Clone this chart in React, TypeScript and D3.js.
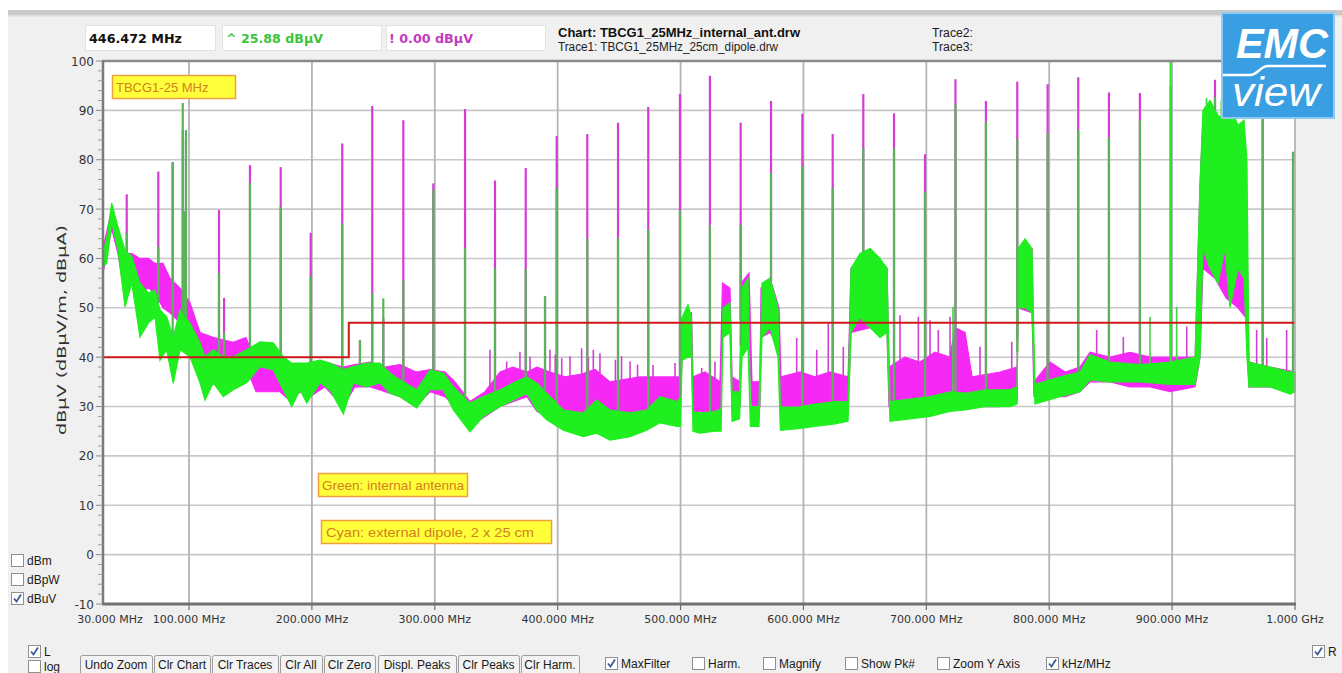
import React from 'react';
import * as d3 from 'd3';

// ---------- DATA ----------
const yTickValues = [100, 90, 80, 70, 60, 50, 40, 30, 20, 10, 0, -10];
const xGridMHz = [100, 200, 300, 400, 500, 600, 700, 800, 900];
const xLabelMHz = [30, 100, 200, 300, 400, 500, 600, 700, 800, 900, 1000];
const xLabelText = ['30.000 MHz', '100.000 MHz', '200.000 MHz', '300.000 MHz', '400.000 MHz', '500.000 MHz', '600.000 MHz', '700.000 MHz', '800.000 MHz', '900.000 MHz', '1.000 GHz'];

// limit line (MHz, dBµV)
const limitFreq = [30, 230, 230, 1000];
const limitLevel = [40, 40, 47, 47];

// internal antenna trace (green): noise envelope
const internalFreq = [30, 33, 37.1, 42.2, 47.9, 53.4, 60.1, 66.9, 72.3, 76.4, 81.8, 87.2, 92.7, 100.8, 108.9, 113, 119.8, 127.9, 136, 146.9, 157.8, 168.6, 176.7, 183.6, 190.3, 195.8, 206.6, 214.7, 225.6, 233.7, 244.6, 255.4, 263.5, 271.7, 285.3, 296.1, 306.9, 315.1, 328.6, 339.5, 353.1, 363.9, 374.8, 382.9, 391.1, 404.6, 420.9, 431.7, 442.6, 458.9, 472.4, 483.3, 497.1, 500, 501.2, 506, 508.9, 510.1, 515.6, 527.8, 533, 534.5, 540.2, 541.9, 548, 550, 554.9, 556.8, 563.8, 566.3, 572.8, 579.3, 581.2, 595.6, 609.4, 625.7, 636.3, 638.7, 646, 654.2, 662.3, 668, 670.4, 686.7, 703, 719.2, 731.5, 747.7, 768.1, 773.8, 774.6, 780.3, 786, 788.4, 808.8, 825, 833.2, 849.5, 873.9, 898.3, 918.7, 922.7, 925.1, 930.8, 937.3, 943, 947.1, 953.6, 958.5, 960.9, 962.5, 979.6, 996, 1000];
const internalLo = [58.3, 59, 67.2, 61.7, 50.2, 55, 44.1, 46.9, 48.2, 39.4, 41.5, 34.7, 41.5, 40.1, 34.8, 31.3, 34.8, 32, 33.4, 34.8, 38.1, 37.4, 33.4, 30, 33.4, 30.7, 34.8, 33.4, 28.5, 34.8, 34, 34.8, 32.7, 32, 29.7, 33.4, 33.4, 29.3, 24.9, 28, 30, 31.3, 32.7, 29.3, 27.3, 25.2, 23.9, 24.6, 23.2, 23.9, 25.2, 26.7, 26, 26, 39.4, 40, 40, 25, 24.6, 25, 25, 44, 45, 27, 27.5, 40, 42, 26, 26, 44, 46, 40, 25.2, 25.5, 26, 26.5, 27, 45, 48, 46, 44, 45, 27, 27.5, 28, 29, 29.3, 30, 30, 30.5, 50, 50, 49, 30.5, 32, 33, 35.4, 35, 35, 34.5, 34.5, 40, 62, 58, 55, 62, 50, 58, 56, 40, 34, 34, 32.5, 33];
const internalHi = [61.7, 64, 71.2, 66.4, 61.7, 60.4, 55, 53, 53.6, 49.6, 48.2, 44.1, 49.6, 46.9, 42.9, 40.1, 41.5, 40.1, 40.1, 41.5, 43.1, 42.9, 40.1, 38.8, 38.8, 38.8, 39.4, 38.8, 37.5, 38.1, 38.8, 38.8, 36.8, 35.4, 33.4, 37.4, 36.8, 34, 30.7, 32, 33.4, 34.8, 36, 34.8, 32.7, 29.3, 28.7, 31.3, 29.3, 28.7, 29.3, 32, 31, 32, 48, 50.6, 48, 29, 28.7, 29, 29.5, 50, 51, 33, 33, 54, 56, 30, 30, 55, 56, 50, 29.9, 29.9, 30.5, 31, 31, 58, 61, 62, 60, 58, 31, 31.5, 32, 33, 32.7, 33.4, 33.4, 34, 62, 64, 62, 34.5, 36, 37, 40.5, 39, 38.5, 39, 40, 75, 90, 92, 89, 88, 91, 87, 88, 80, 39, 38, 37, 37];

// external dipole trace (magenta): noise envelope
const dipoleFreq = [30, 37.1, 42.2, 47.9, 53.4, 60.1, 66.9, 72.3, 78.8, 84.5, 92.7, 100.8, 108.9, 119.5, 127.6, 136, 146.3, 154.6, 165.9, 174, 183, 190.3, 198.5, 210.7, 225.3, 235.1, 247.3, 259.5, 271.7, 284.7, 296.1, 308.3, 316.4, 328.6, 340.9, 353.1, 363.6, 375, 383.2, 393.7, 405.8, 418.2, 430.4, 442.6, 454.8, 467, 479.2, 491.4, 499.5, 501.2, 508.9, 510.1, 519.9, 532.1, 534.1, 540.2, 541.9, 548.4, 549.2, 555.7, 558.1, 564.6, 565.5, 572.8, 580.1, 581.7, 597.2, 609.4, 621.6, 636.3, 638.7, 654.2, 668, 669.6, 682.6, 694.8, 707, 719.2, 723.3, 731.5, 737.2, 760, 773.8, 774.6, 786, 787.6, 800.6, 812.9, 825, 833.2, 849.5, 865.8, 882.1, 898.3, 918.7, 922.7, 925.1, 934.9, 943.9, 953.6, 960.1, 962.5, 979.6, 1000];
const dipoleLo = [57, 66, 61, 52, 55, 53, 54, 53, 50, 49, 47, 45, 40, 39, 38, 37, 38, 33, 33, 33, 31, 33, 32, 34, 30, 34, 34, 33, 32, 30, 33, 32, 30, 26, 28, 30, 31, 32, 29, 28, 27, 27, 28, 26, 27, 28, 28, 28, 28, 40, 40, 29, 29, 28, 48, 47, 29, 30, 45, 45, 30, 30, 44, 45, 42, 29, 29, 29, 29, 29, 45, 46, 45, 30, 31, 30, 31, 30, 32, 32, 30, 30, 31, 50, 49, 32, 32, 32, 33, 35, 35, 34, 34, 33, 34, 40, 58, 56, 52, 50, 48, 34, 34, 33];
const dipoleHi = [62, 70, 66, 61, 61, 60, 60, 59, 59, 56, 54, 51, 45, 44, 43.5, 43, 44, 39, 38.5, 38, 38, 38, 38, 39, 38, 38.5, 39, 38, 38.5, 37, 37.5, 37, 35, 31, 33, 37, 38, 37, 38, 37, 36, 36.5, 37.5, 35, 35.5, 36, 36, 36, 36, 48, 49, 36, 37, 35, 55, 54, 36, 35, 55, 57, 35, 35, 54, 56, 50, 36, 37, 36, 37, 36, 58, 62, 58, 38, 40, 39, 41, 40, 46, 45, 36, 37, 38, 62, 62, 35, 39, 37, 38, 41, 40, 41, 40, 40, 40, 75, 88, 90, 86, 86, 80, 39, 38, 37];

// harmonic spikes: frequency, dipole peak, internal-antenna peak (dBµV)
const spikeFreq = [49.3, 75, 86.7, 94.9, 97.5, 96.8, 124.4, 128.5, 149.6, 174.6, 199, 224.7, 239.1, 249.1, 258.1, 274.4, 298.8, 324.6, 349, 374, 389.7, 399.2, 424.1, 449.1, 473.7, 499.5, 523.9, 548.9, 573.6, 599.1, 623.8, 648.7, 673.7, 698.9, 723.7, 748.5, 774, 798.7, 823.6, 848.6, 873.8, 898.8, 934.9, 973.7, 998.4];
const spikeDipole = [73, 77.6, 79.5, 86, 84, 69.5, 69.8, 52, 78.9, 78.5, 65.2, 83.3, 43.5, 90.9, 48, 88, 75.2, 90.3, 75.8, 78.3, 52.4, 84.8, 85.2, 87.5, 90.7, 93.3, 97, 87.5, 91.9, 89.3, 85.2, 93.3, 89.4, 81.1, 96.3, 91.9, 95.8, 95.3, 96.7, 93.6, 93.5, 95, 96.2, 88.4, 81.6];
const spikeInternal = [65.2, 62.4, 79.5, 91.5, 86, 69.5, 57, 45, 75.3, 70.5, 56.3, 67.1, 43.5, 52.9, 51.9, 55.6, 73.9, 62.1, 58, 57.9, 52.4, 74.2, 64.1, 64.1, 65.8, 69.8, 66.8, 66.8, 77.3, 78.7, 74.2, 82.3, 82.3, 73.5, 91.3, 87.7, 84.2, 85.4, 86, 84.5, 88, 100, 92.7, 88.4, 81.6];

// smaller noise peaks
const dipoleMinorFreq = [344.9, 358.5, 369.3, 377.5, 393.7, 398, 403.3, 410, 419.5, 425, 429, 434.4, 447, 452, 458.9, 465, 477.6, 495.5, 517.2, 528, 594.5, 610.8, 620.2, 632.4, 678.6, 693.5, 703, 709.7, 719.3, 743.7, 769.5, 838.6, 860.3, 911.9, 968.8, 977, 993.2];
const dipoleMinorTop = [41.5, 39.1, 41.1, 40.1, 41.5, 40.5, 39.8, 40.2, 41.8, 40, 41.5, 40.8, 39.5, 40.2, 39.1, 38.5, 38.4, 38.8, 37.8, 39.1, 43.9, 41.5, 46.9, 42.1, 48.5, 48.2, 47.5, 45.5, 48.2, 42.1, 43.1, 45.5, 44.1, 46.2, 45.5, 43.9, 45.5];
const internalMinorFreq = [721.7, 882, 903.7, 928, 940];
const internalMinorTop = [50.2, 48.2, 50.2, 92.5, 92];

// ---------- LAYOUT ----------
const W = 1342, H = 673;
const PL = 103, PR = 1295, PT = 61, PB = 604;
const fx = d3.scaleLinear().domain([30, 1000]).range([PL, PR]);
const fy = d3.scaleLinear().domain([-10, 100]).range([PB, PT]);

function interp(xs: number[], ys: number[], f: number) {
  const i = d3.bisectLeft(xs, f);
  if (i <= 0) return ys[0];
  if (i >= xs.length) return ys[ys.length - 1];
  const t = (f - xs[i - 1]) / (xs[i] - xs[i - 1] || 1);
  return ys[i - 1] + t * (ys[i] - ys[i - 1]);
}

const UI = 'Tahoma, "DejaVu Sans", sans-serif';
const NARROW = '"Liberation Sans Narrow", "Liberation Sans", Arial, sans-serif';

function CheckBox({ x, y, checked, label, size = 12 }: { x: number; y: number; checked: boolean; label?: string; size?: number }) {
  return (
    <g>
      <rect x={x + 0.5} y={y + 0.5} width={size} height={size} fill="#ffffff" stroke="#8e8f8f" strokeWidth={1} />
      {checked && (
        <path d={`M${x + 3},${y + 6.5} L${x + 5.5},${y + 9.5} L${x + 10},${y + 2.5}`} fill="none" stroke="#3d5a98" strokeWidth={1.8} />
      )}
      {label && (
        <text x={x + size + 4} y={y + size - 1.5} fontFamily={NARROW} fontSize={12} fill="#1a1a1a">{label}</text>
      )}
    </g>
  );
}

function Button({ x0, x1, label }: { x0: number; x1: number; label: string }) {
  return (
    <g>
      <rect x={x0 + 0.5} y={655.5} width={x1 - x0} height={22} rx={2} fill="#f3f3f3" stroke="#9c9c9c" />
      <text x={(x0 + x1) / 2} y={669} textAnchor="middle" fontFamily={NARROW} fontSize={12} fill="#1a1a1a">{label}</text>
    </g>
  );
}

export default function App() {
  const idxG = internalFreq.map((_, i) => i);
  const idxD = dipoleFreq.map((_, i) => i);
  const areaG = d3.area<number>().x(i => fx(internalFreq[i])).y0(i => fy(internalLo[i])).y1(i => fy(internalHi[i]));
  const areaD = d3.area<number>().x(i => fx(dipoleFreq[i])).y0(i => fy(dipoleLo[i])).y1(i => fy(dipoleHi[i]));
  const limitLine = d3.line<number>().x(i => fx(limitFreq[i])).y(i => fy(limitLevel[i]))(limitFreq.map((_, i) => i));

  const minorY: number[] = d3.range(-10, 100, 2).filter(v => v % 10 !== 0);

  return (
    <svg width={W} height={H} style={{ position: 'absolute', left: 0, top: 0, display: 'block' }} xmlns="http://www.w3.org/2000/svg">
      <rect x={0} y={0} width={W} height={H} fill="#ffffff" />
      {/* window panel */}
      <rect x={8} y={10} width={W - 8} height={H - 10} fill="#f0f0f0" />
      <rect x={8} y={10} width={W - 8} height={6} fill="#c9c9c9" />
      <rect x={8} y={15} width={W - 8} height={1.5} fill="#dedede" />

      {/* header fields */}
      <rect x={85.5} y={25.5} width={130} height={25} fill="#ffffff" stroke="#e2e2e2" />
      <rect x={222.5} y={25.5} width={159} height={25} fill="#ffffff" stroke="#e2e2e2" />
      <rect x={386.5} y={25.5} width={159} height={25} fill="#ffffff" stroke="#e2e2e2" />
      <text x={89} y={43} fontFamily={UI} fontWeight="bold" fontSize={13} fill="#111" textLength={93} lengthAdjust="spacingAndGlyphs">446.472 MHz</text>
      <text x={226} y={43} fontFamily={UI} fontWeight="bold" fontSize={13} fill="#3ac43a" textLength={97} lengthAdjust="spacingAndGlyphs">^ 25.88 dBµV</text>
      <text x={389} y={43} fontFamily={UI} fontWeight="bold" fontSize={13} fill="#c43ac4" textLength={84} lengthAdjust="spacingAndGlyphs">! 0.00 dBµV</text>
      <text x={558} y={37} fontFamily={NARROW} fontWeight="bold" fontSize={12.5} fill="#111" textLength={242} lengthAdjust="spacingAndGlyphs">Chart: TBCG1_25MHz_internal_ant.drw</text>
      <text x={558} y={51} fontFamily={NARROW} fontSize={12} fill="#222" textLength={220} lengthAdjust="spacingAndGlyphs">Trace1: TBCG1_25MHz_25cm_dipole.drw</text>
      <text x={932} y={37} fontFamily={NARROW} fontSize={12} fill="#222" textLength={41} lengthAdjust="spacingAndGlyphs">Trace2:</text>
      <text x={932} y={51} fontFamily={NARROW} fontSize={12} fill="#222" textLength={41} lengthAdjust="spacingAndGlyphs">Trace3:</text>

      {/* plot background */}
      <rect x={PL} y={PT} width={PR - PL} height={PB - PT} fill="#ffffff" />

      {/* grid */}
      {yTickValues.filter(v => v > -10 && v < 100).map(v => (
        <line key={'hg' + v} x1={PL} x2={PR} y1={fy(v)} y2={fy(v)} stroke="#c8c8cc" strokeWidth={1.6} />
      ))}
      {xGridMHz.map(f => (
        <line key={'vg' + f} x1={fx(f)} x2={fx(f)} y1={PT} y2={PB} stroke="#b4b4b8" strokeWidth={1.8} />
      ))}

      {/* dipole trace (magenta) */}
      <path d={areaD(idxD) || ''} fill="#f528f5" stroke="#f528f5" strokeWidth={1.2} />
      {dipoleMinorFreq.map((f, i) => (
        <line key={'dm' + i} x1={fx(f)} x2={fx(f)} y1={fy(interp(dipoleFreq, dipoleHi, f))} y2={fy(dipoleMinorTop[i])} stroke="#d23fd2" strokeWidth={1.6} />
      ))}
      {spikeFreq.map((f, i) => (
        <line key={'ds' + i} x1={fx(f)} x2={fx(f)} y1={fy(interp(dipoleFreq, dipoleHi, f))} y2={fy(spikeDipole[i])} stroke="#d43cd4" strokeWidth={2.2} />
      ))}

      {/* internal antenna trace (green) */}
      <path d={areaG(idxG) || ''} fill="#1fee1f" stroke="#1fee1f" strokeWidth={1.2} />
      {internalMinorFreq.map((f, i) => (
        <line key={'gm' + i} x1={fx(f)} x2={fx(f)} y1={fy(interp(internalFreq, internalHi, f))} y2={fy(internalMinorTop[i])} stroke="#3fd43f" strokeWidth={1.6} />
      ))}
      {spikeFreq.map((f, i) => (
        <line key={'gs' + i} x1={fx(f)} x2={fx(f)} y1={fy(interp(internalFreq, internalHi, f))} y2={fy(spikeInternal[i])} stroke={spikeInternal[i] >= 99 ? '#22ee22' : '#58b458'} strokeWidth={2.2} />
      ))}

      {/* limit */}
      <path d={limitLine || ''} fill="none" stroke="#d01818" strokeWidth={2} />

      {/* frame */}
      <line x1={PL} x2={PR} y1={PT} y2={PT} stroke="#8a8a8a" strokeWidth={2.5} />
      <line x1={PR} x2={PR} y1={PT} y2={PB} stroke="#a8a8a8" strokeWidth={1.5} />
      <line x1={PL} x2={PL} y1={PT - 1} y2={PB} stroke="#7a7a7a" strokeWidth={2.5} />
      <line x1={PL - 1} x2={PR + 1} y1={PB} y2={PB} stroke="#707070" strokeWidth={3} />

      {/* y axis ticks */}
      {yTickValues.map(v => (
        <g key={'yt' + v}>
          <line x1={96} x2={PL} y1={fy(v)} y2={fy(v)} stroke="#8a8a8a" strokeWidth={1} />
          <text x={94} y={fy(v) + 4.5} textAnchor="end" fontFamily='"DejaVu Sans", sans-serif' fontSize={12} fill="#333">{v}</text>
        </g>
      ))}
      {minorY.map(v => (
        <line key={'ym' + v} x1={98} x2={PL} y1={fy(v)} y2={fy(v)} stroke="#9a9a9a" strokeWidth={1} />
      ))}
      <text transform="translate(66,330) rotate(-90)" textAnchor="middle" fontFamily='"DejaVu Sans", sans-serif' fontSize={12} fill="#333" textLength={210} lengthAdjust="spacingAndGlyphs">dBµV  (dBµV/m, dBµA)</text>

      {/* x axis ticks & labels */}
      {xLabelMHz.map((f, i) => (
        <g key={'xt' + f}>
          {f > 30 && <line x1={fx(f)} x2={fx(f)} y1={PB} y2={PB + 6} stroke="#707070" strokeWidth={1.2} />}
          <text x={f === 30 ? fx(f) + 7 : fx(f)} y={623} textAnchor="middle" fontFamily='"DejaVu Sans", sans-serif' fontSize={11} fill="#333">{xLabelText[i]}</text>
        </g>
      ))}

      {/* annotations */}
      <rect x={112.5} y={75.5} width={123} height={23} fill="#ffff3a" stroke="#f0a040" strokeWidth={1.5} />
      <text x={116} y={92} fontFamily='"Liberation Sans", Arial, sans-serif' fontSize={13} fill="#d2801e">TBCG1-25 MHz</text>
      <rect x={318.5} y={473.5} width={149} height={23} fill="#ffff3a" stroke="#f0a040" strokeWidth={1.5} />
      <text x={322} y={490} fontFamily='"Liberation Sans", Arial, sans-serif' fontSize={13} fill="#d2801e" textLength={142} lengthAdjust="spacingAndGlyphs">Green: internal antenna</text>
      <rect x={321.5} y={520.5} width={230} height={23} fill="#ffff3a" stroke="#f0a040" strokeWidth={1.5} />
      <text x={326} y={537} fontFamily='"Liberation Sans", Arial, sans-serif' fontSize={13} fill="#d2801e" textLength={208} lengthAdjust="spacingAndGlyphs">Cyan: external dipole, 2 x 25 cm</text>

      {/* logo */}
      <rect x={1222} y={13} width={112} height={105} fill="#3a9ee2" stroke="#8fcaf0" strokeWidth={2} />
      <text x={1236} y={58} fontFamily='"Liberation Sans", Arial, sans-serif' fontWeight="bold" fontStyle="italic" fontSize={42} fill="#ffffff" textLength={92} lengthAdjust="spacingAndGlyphs">EMC</text>
      <path d="M1223,75 L1250,75 C1258,75 1260,66 1268,66 L1326,66" fill="none" stroke="#ffffff" strokeWidth={2.5} />
      <text x={1232} y={106} fontFamily='"Liberation Sans", Arial, sans-serif' fontStyle="italic" fontSize={40} fill="#ffffff" textLength={88} lengthAdjust="spacingAndGlyphs">view</text>

      {/* unit checkboxes */}
      <CheckBox x={11} y={554} checked={false} label="dBm" />
      <CheckBox x={11} y={573} checked={false} label="dBpW" />
      <CheckBox x={11} y={592} checked={true} label="dBuV" />

      {/* bottom controls */}
      <CheckBox x={28} y={645} checked={true} label="L" />
      <CheckBox x={28} y={660} checked={false} label="log" />
      <Button x0={80} x1={152} label="Undo Zoom" />
      <Button x0={154} x1={210} label="Clr Chart" />
      <Button x0={212} x1={278} label="Clr Traces" />
      <Button x0={280} x1={322} label="Clr All" />
      <Button x0={324} x1={375} label="Clr Zero" />
      <Button x0={378} x1={456} label="Displ. Peaks" />
      <Button x0={458} x1={519} label="Clr Peaks" />
      <Button x0={521} x1={579} label="Clr Harm." />
      <CheckBox x={605} y={657} checked={true} label="MaxFilter" />
      <CheckBox x={692} y={657} checked={false} label="Harm." />
      <CheckBox x={763} y={657} checked={false} label="Magnify" />
      <CheckBox x={845} y={657} checked={false} label="Show Pk#" />
      <CheckBox x={937} y={657} checked={false} label="Zoom Y Axis" />
      <CheckBox x={1046} y={657} checked={true} label="kHz/MHz" />
      <CheckBox x={1312} y={645} checked={true} label="R" />
    </svg>
  );
}
